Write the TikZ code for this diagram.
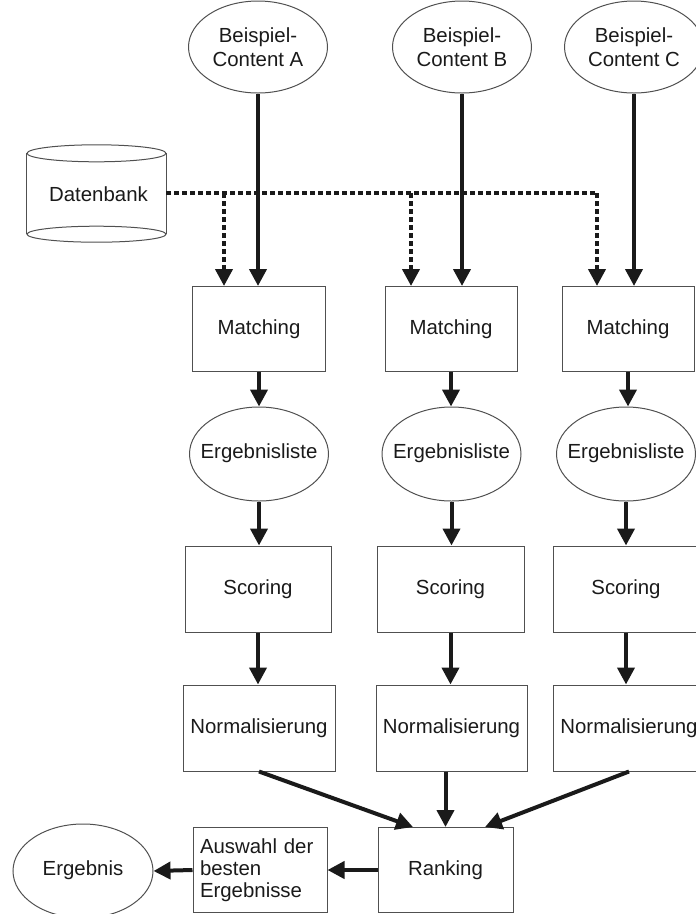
\documentclass[tikz,border=0pt]{standalone}
\usepackage{fontspec}
\setmainfont{Liberation Sans}
\usetikzlibrary{arrows.meta,shapes.geometric}
\definecolor{ink}{HTML}{1A1A1A}
\definecolor{frame}{HTML}{505050}
% text of an oval: zero width so the ellipse keeps its given size
\newcommand{\ovaltext}[1]{\makebox[0pt]{\begin{tabular}{@{}c@{}}#1\end{tabular}}}
% two-line oval text, set a little below the centre
\newcommand{\lowovaltext}[1]{\raisebox{-8pt}[0pt][0pt]{\ovaltext{#1}}}
\tikzset{
  txt/.style={font=\fontsize{20.4}{24}\selectfont, text=ink},
  oval/.style={txt, ellipse, draw=frame, line width=1pt, inner sep=0pt},
  box/.style={txt, rectangle, draw=frame, line width=1pt, inner sep=0pt, align=center},
  cyl/.style={draw=frame, line width=1pt},
  flow/.style={draw=ink, line width=4pt, -{Triangle[width=17pt,length=17pt]}},
  dbflow/.style={draw=ink, line width=4pt, dash pattern=on 4.5pt off 3.5pt},
  dbarrow/.style={dbflow, -{Triangle[width=17pt,length=17pt]}},
}
\begin{document}
\begin{tikzpicture}[x=1pt,y=-1pt]
\useasboundingbox (0,0) rectangle (696,914);
\clip (0,0) rectangle (696,914);

% sample contents
\node[oval, minimum width=139pt, minimum height=92pt] (cA) at (258,47) {\lowovaltext{Beispiel-\\Content A}};
\node[oval, minimum width=139pt, minimum height=92pt] (cB) at (462,47) {\lowovaltext{Beispiel-\\Content B}};
\node[oval, minimum width=139pt, minimum height=92pt] (cC) at (634,47) {\lowovaltext{Beispiel-\\Content C}};

% database cylinder
\node[txt, minimum width=139pt, minimum height=80.5pt, inner sep=0pt] (db) at (96.5,193.75) {\hspace{4pt}Datenbank};
\draw[cyl] (db.north) ellipse [x radius=69.5pt, y radius=8.5pt];
\draw[cyl] (db.south) ellipse [x radius=69.5pt, y radius=8pt];
\draw[cyl] (db.north west) -- (db.south west);
\draw[cyl] (db.north east) -- (db.south east);

% matching
\node[box, minimum width=133pt, minimum height=85pt] (mA) at (259,329) {Matching};
\node[box, minimum width=132pt, minimum height=85pt] (mB) at (451,329) {Matching};
\node[box, minimum width=132pt, minimum height=85pt] (mC) at (628,329) {Matching};

% result lists
\node[oval, minimum width=139pt, minimum height=94pt] (eA) at (259,454) {\ovaltext{Ergebnisliste}};
\node[oval, minimum width=139pt, minimum height=94pt] (eB) at (451.5,454) {\ovaltext{Ergebnisliste}};
\node[oval, minimum width=139pt, minimum height=94pt] (eC) at (626,454) {\ovaltext{Ergebnisliste}};

% scoring
\node[box, minimum width=146pt, minimum height=86pt] (sA) at (258,589) {Scoring};
\node[box, minimum width=147pt, minimum height=86pt] (sB) at (450.5,589) {Scoring};
\node[box, minimum width=146pt, minimum height=86pt] (sC) at (626,589) {Scoring};

% normalisation
\node[box, minimum width=152pt, minimum height=86pt] (nA) at (259,728) {Normalisierung};
\node[box, minimum width=151pt, minimum height=86pt] (nB) at (451.5,728) {Normalisierung};
\node[box, minimum width=152pt, minimum height=86pt] (nC) at (629,728) {Normalisierung};

% ranking and selection
\node[box, minimum width=135pt, minimum height=85pt] (rk) at (445.5,870) {Ranking};
\node[box, text width=120pt, inner xsep=7pt, minimum height=85pt, align=left,
      font=\fontsize{20.4}{22}\selectfont] (aw) at (260,870) {Auswahl der\\besten\\Ergebnisse};
\node[oval, minimum width=140pt, minimum height=94pt] (er) at (83,871) {\ovaltext{Ergebnis}};

% database feed lines
\coordinate (dA) at (224,193);
\coordinate (dB) at (411,193);
\coordinate (dC) at (597,193);
\draw[dbflow] (db.east |- dA) -- (dC);
\draw[dbarrow] (dA) -- (dA |- mA.north);
\draw[dbarrow] (dB) -- (dB |- mB.north);
\draw[dbarrow] (dC) -- (dC |- mC.north);

% column flows
\foreach \c in {A,B,C}{
  \draw[flow] (c\c.south) -- (c\c.south |- m\c.north);
  \draw[flow] (m\c.south) -- (m\c.south |- e\c.north);
  \draw[flow] (e\c.south) -- (e\c.south |- s\c.north);
  \draw[flow] (s\c.south) -- (s\c.south |- n\c.north);
}

% merge into ranking
\draw[flow] (nA.south) -- ([xshift=-32.5pt]rk.north);
\draw[flow] (rk.north |- nB.south) -- (rk.north);
\draw[flow] (nC.south) -- ([xshift=39.5pt]rk.north);

% final selection
\draw[flow] (rk.west) -- (aw.east);
\draw[flow] (aw.west) -- (er.east);
\end{tikzpicture}
\end{document}
